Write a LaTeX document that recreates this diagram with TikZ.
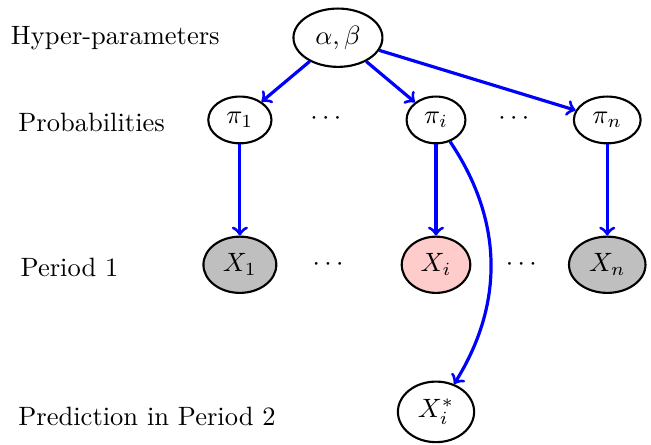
\documentclass[tikz,border=0pt]{standalone}
\usepackage{amsmath}
\usepackage{amssymb}
\usetikzlibrary{shapes.geometric}

\begin{document}
\begin{tikzpicture}[
	latent/.style={ellipse,draw,thick},
	observed/.style={ellipse,draw,thick,fill=lightgray},
	target/.style={ellipse,draw,thick,fill=red!20},
	edge/.style={->,very thick,blue},
	level/.style={anchor=west}]
	\useasboundingbox (0,0) rectangle (8.63,-5.89);

	\node[level] (lhyper) at (0.02,-0.50) {Hyper-parameters};
	\node[level] (lprob) at (0.12,-1.62) {Probabilities};
	\node[level] (lperiod) at (0.15,-3.54) {Period 1};
	\node[level] (lpred) at (0.12,-5.52) {Prediction in Period 2};

	\node[latent] (ab) at (4.48,-0.50) {$\alpha,\beta$};

	\node[latent] (pi1) at (3.18,-1.59) {$\pi_1$};
	\node (pdots1) at (4.35,-1.57) {$\cdots$};
	\node[latent] (pii) at (5.78,-1.59) {$\pi_i$};
	\node (pdots2) at (6.84,-1.57) {$\cdots$};
	\node[latent] (pin) at (8.05,-1.59) {$\pi_n$};

	\node[observed] (x1) at (3.18,-3.51) {$X_1$};
	\node (xdots1) at (4.38,-3.51) {$\cdots$};
	\node[target] (xi) at (5.78,-3.51) {$X_i$};
	\node (xdots2) at (6.94,-3.51) {$\cdots$};
	\node[observed] (xn) at (8.05,-3.51) {$X_n$};

	\node[latent] (xstar) at (5.78,-5.46) {$X_i^*$};

	\draw[edge] (ab) -- (pi1);
	\draw[edge] (ab) -- (pii);
	\draw[edge] (ab) -- (pin);
	\draw[edge] (pi1) -- (x1);
	\draw[edge] (pii) -- (xi);
	\draw[edge] (pin) -- (xn);
	\draw[edge] (pii) to[bend left=33] (xstar);
\end{tikzpicture}
\end{document}
